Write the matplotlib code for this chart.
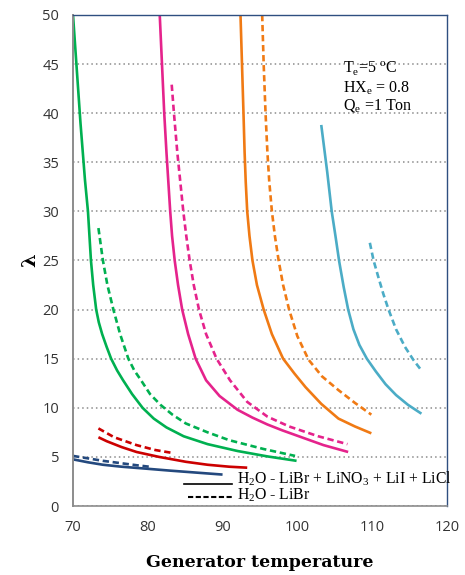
import matplotlib.pyplot as plt
from matplotlib.lines import Line2D

# generator temperature (x) and lambda (y)
# solid = H2O-LiBr+LiNO3+LiI+LiCl, dashed = H2O-LiBr
blue_s_x = [70.0, 72.0, 74.0, 76.5, 79.8, 83.0, 86.5, 90.0]
blue_s_y = [4.75, 4.45, 4.2, 4.0, 3.8, 3.6, 3.4, 3.2]
blue_d_x = [70.0, 72.0, 74.0, 76.5, 78.5, 80.2]
blue_d_y = [5.1, 4.85, 4.6, 4.35, 4.15, 4.0]

red_s_x = [73.4, 74.5, 76.5, 78.5, 81.5, 85.1, 88.0, 90.9, 93.3]
red_s_y = [7.0, 6.6, 6.0, 5.5, 5.0, 4.5, 4.2, 4.0, 3.9]
red_d_x = [73.4, 75.5, 78.5, 81.0, 83.3]
red_d_y = [7.9, 7.0, 6.2, 5.7, 5.4]

green_s_x = [70.0, 70.5, 71.0, 71.6, 72.0, 72.4, 72.7, 73.1, 73.45, 73.9, 74.5, 75.1,
             75.9, 76.7, 77.9, 79.3, 80.8, 82.5, 84.8, 88.0, 92.0, 96.0, 99.9]
green_s_y = [50.0, 44.5, 39.0, 33.2, 30.0, 25.0, 22.5, 20.0, 18.7, 17.5, 16.2, 15.0,
             13.8, 12.8, 11.4, 10.0, 8.9, 8.0, 7.1, 6.3, 5.6, 5.05, 4.6]
green_d_x = [73.4, 74.0, 74.6, 75.4, 76.3, 77.4, 78.2, 79.1, 80.3, 81.7, 83.3, 85.1,
             88.0, 90.9, 95.5, 99.7]
green_d_y = [28.3, 25.0, 22.5, 20.0, 17.5, 15.0, 13.8, 12.8, 11.4, 10.3, 9.3, 8.4,
             7.5, 6.7, 5.8, 5.1]

pink_s_x = [81.6, 81.9, 82.2, 82.5, 82.75, 83.0, 83.25, 83.6, 84.05, 84.6, 85.4, 86.4,
            87.8, 89.6, 92.0, 94.0, 96.0, 98.0, 100.2, 103.5, 106.8]
pink_s_y = [50.0, 45.0, 40.0, 36.0, 33.0, 30.0, 27.5, 25.0, 22.5, 20.0, 17.5, 15.0,
            12.8, 11.2, 9.8, 9.0, 8.3, 7.7, 7.1, 6.2, 5.5]
pink_d_x = [83.2, 83.5, 83.95, 84.35, 84.75, 85.15, 85.6, 86.15, 86.85, 87.8, 89.2,
            91.0, 93.3, 96.0, 98.9, 102.8, 106.7]
pink_d_y = [42.9, 40.0, 36.0, 33.0, 30.0, 27.5, 25.0, 22.5, 20.0, 17.5, 15.0,
            12.8, 10.6, 9.1, 8.1, 7.1, 6.3]

orange_s_x = [92.4, 92.6, 92.8, 92.95, 93.1, 93.3, 93.6, 94.0, 94.6, 95.5, 96.6, 98.1,
              99.6, 101.1, 103.2, 105.5, 107.7, 109.9]
orange_s_y = [50.0, 45.0, 40.0, 36.0, 33.0, 30.0, 27.5, 25.0, 22.5, 20.0, 17.5, 15.0,
              13.5, 12.1, 10.4, 8.9, 8.1, 7.4]
orange_d_x = [95.3, 95.5, 95.75, 96.0, 96.25, 96.6, 97.0, 97.5, 98.1, 98.9, 100.0,
              101.5, 103.3, 105.5, 107.7, 109.9]
orange_d_y = [50.0, 45.0, 40.0, 36.0, 33.0, 30.0, 27.5, 25.0, 22.5, 20.0, 17.3,
              14.9, 13.2, 11.8, 10.5, 9.3]

cyan_s_x = [103.2, 104.0, 104.6, 105.1, 105.6, 106.2, 106.8, 107.5, 108.3, 109.3,
            110.5, 111.8, 113.2, 114.8, 116.6]
cyan_s_y = [38.8, 34.0, 30.0, 27.5, 24.9, 22.3, 20.0, 18.0, 16.4, 15.0,
            13.7, 12.4, 11.3, 10.3, 9.4]
cyan_d_x = [109.7, 110.2, 110.8, 111.5, 112.2, 113.2, 114.4, 115.5, 116.6]
cyan_d_y = [26.8, 25.0, 23.4, 21.6, 20.0, 18.0, 16.2, 14.9, 13.8]

fig = plt.figure(figsize=(4.65, 5.75), dpi=100)
ax = fig.add_axes([0.157, 0.12, 0.804, 0.854])

lw = 1.9
dash = (2.4, 1.4)
series = [
    (blue_s_x, blue_s_y, blue_d_x, blue_d_y, '#24497E'),
    (red_s_x, red_s_y, red_d_x, red_d_y, '#CC0000'),
    (green_s_x, green_s_y, green_d_x, green_d_y, '#00B050'),
    (pink_s_x, pink_s_y, pink_d_x, pink_d_y, '#E5238C'),
    (orange_s_x, orange_s_y, orange_d_x, orange_d_y, '#F07A14'),
    (cyan_s_x, cyan_s_y, cyan_d_x, cyan_d_y, '#4BACC6'),
]
for sx, sy, dx, dy, c in series:
    ax.plot(sx, sy, color=c, lw=lw, solid_capstyle='butt', solid_joinstyle='round')
    ax.plot(dx, dy, color=c, lw=lw, dashes=dash)

ax.set_xlim(70, 120)
ax.set_ylim(0, 50)
ax.set_xticks(range(70, 121, 10))
ax.set_yticks(range(0, 51, 5))
ax.yaxis.grid(True, color='#8C8C8C', linestyle=(0, (1, 2)), lw=1.1)
ax.set_axisbelow(True)
ax.tick_params(length=0, labelsize=10.5, labelcolor='#333333', pad=10)
for lab in ax.get_xticklabels() + ax.get_yticklabels():
    lab.set_family('Open Sans')

ax.spines['left'].set_color('#8C8C8C')
ax.spines['left'].set_linestyle((0, (2, 1)))
ax.spines['left'].set_linewidth(1.4)
ax.spines['bottom'].set_color('#8C8C8C')
ax.spines['bottom'].set_linewidth(1.2)
for s in ['top', 'right']:
    ax.spines[s].set_color('#2F4F80')
    ax.spines[s].set_linewidth(1.0)

ax.set_xlabel('Generator temperature', fontsize=12.5, fontweight='bold',
              family='DejaVu Serif', labelpad=14)
ax.set_ylabel('λ', fontsize=14, fontweight='bold', family='DejaVu Serif',
              rotation=90, labelpad=2)

# conditions annotation
tf = dict(family='Liberation Serif', fontsize=11.5, va='center', ha='left')
ax.text(0.722, 0.890, r'T$_\mathregular{e}$=5 $^\mathregular{o}$C', transform=ax.transAxes, **tf)
ax.text(0.722, 0.851, r'HX$_\mathregular{e}$ = 0.8', transform=ax.transAxes, **tf)
ax.text(0.722, 0.813, r'Q$_\mathregular{e}$ =1 Ton', transform=ax.transAxes, **tf)

# legend drawn as line samples + text
ax.add_line(Line2D([0.297, 0.425], [0.044, 0.044], transform=ax.transAxes,
                   color='black', lw=1.2))
ax.add_line(Line2D([0.307, 0.425], [0.018, 0.018], transform=ax.transAxes,
                   color='black', lw=1.5, dashes=(2.5, 1.2)))
lf = dict(family='Liberation Serif', fontsize=11.3, va='center', ha='left',
          transform=ax.transAxes)
ax.text(0.438, 0.056, r'H$_\mathregular{2}$O - LiBr + LiNO$_\mathregular{3}$ + LiI + LiCl', **lf)
ax.text(0.438, 0.022, r'H$_\mathregular{2}$O - LiBr', **lf)

fig.savefig('out.png', dpi=100)
